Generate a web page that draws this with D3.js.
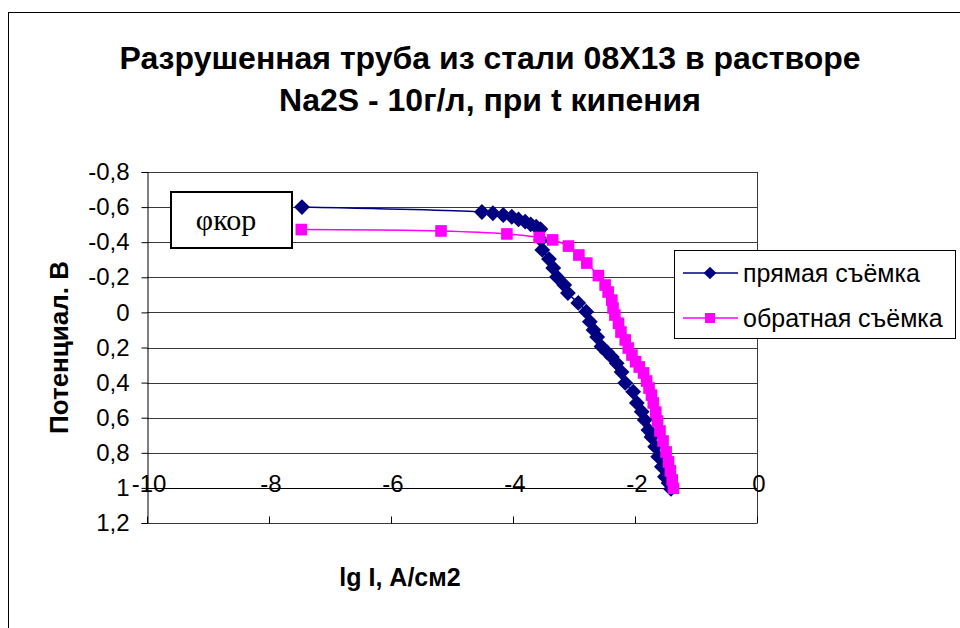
<!DOCTYPE html>
<html>
<head>
<meta charset="utf-8">
<script src="https://cdn.jsdelivr.net/npm/d3@7"></script>
<style>
  html, body { margin: 0; padding: 0; background: #fff; }
  svg { display: block; }
</style>
</head>
<body>
<svg id="chart" width="960" height="628"></svg>
<script>
// ---------- data ----------
const titleLines = ["Разрушенная труба из стали 08Х13 в растворе", "Na2S - 10г/л, при t кипения"];
const xTitle = "lg I, А/см2";
const yTitle = "Потенциал. В";
const seriesNames = ["прямая съёмка", "обратная съёмка"];
const annotation = "φкор";

const xTicks = [-10, -8, -6, -4, -2, 0];
const yTicks = [-0.8, -0.6, -0.4, -0.2, 0, 0.2, 0.4, 0.6, 0.8, 1, 1.2];

// прямая съёмка (direct scan)
const directX = [-7.46, -4.51, -4.33, -4.16, -4.02, -3.91, -3.80, -3.71, -3.62, -3.55,
  -3.54, -3.52, -3.41, -3.34, -3.28, -3.16, -3.10, -2.93, -2.80, -2.74,
  -2.68, -2.62, -2.55, -2.46, -2.38, -2.30, -2.22, -2.16, -2.03, -1.97,
  -1.89, -1.84, -1.78, -1.73, -1.67, -1.62, -1.56, -1.51, -1.45, -1.41];
const directY = [-0.60, -0.572, -0.565, -0.555, -0.545, -0.530, -0.517, -0.502, -0.488, -0.475,
  -0.413, -0.356, -0.304, -0.253, -0.202, -0.156, -0.110, -0.054, -0.004, 0.053,
  0.100, 0.140, 0.195, 0.226, 0.254, 0.29, 0.340, 0.402, 0.452, 0.516,
  0.566, 0.613, 0.670, 0.710, 0.765, 0.822, 0.879, 0.936, 0.972, 1.006];

// обратная съёмка (reverse scan)
const reverseX = [-7.47, -5.18, -4.10, -3.57, -3.35, -3.09, -2.92, -2.79, -2.60, -2.49,
  -2.44, -2.38, -2.36, -2.33, -2.27, -2.23, -2.16, -2.11, -2.05, -1.99,
  -1.93, -1.86, -1.81, -1.77, -1.73, -1.70, -1.66, -1.63, -1.59, -1.54,
  -1.49, -1.45, -1.42, -1.39, -1.37];
const reverseY = [-0.472, -0.464, -0.447, -0.427, -0.413, -0.378, -0.327, -0.281, -0.210, -0.156,
  -0.116, -0.070, -0.025, 0.015, 0.062, 0.112, 0.157, 0.203, 0.243, 0.281,
  0.311, 0.345, 0.391, 0.431, 0.471, 0.516, 0.568, 0.619, 0.676, 0.733,
  0.795, 0.852, 0.903, 0.955, 1.002];

const navy = "#000080";
const magenta = "#FF00FF";

// ---------- layout ----------
const svg = d3.select("#chart");
const plot = { left: 147, right: 757, top: 172, bottom: 523 };

const x = d3.scaleLinear().domain([-10, 0]).range([plot.left, plot.right]);
const y = d3.scaleLinear().domain([-0.8, 1.2]).range([plot.top, plot.bottom]);

const font = "Liberation Sans, Arial, sans-serif";
const fmtNum = v => {
  const s = (Math.abs(v) < 1e-9 ? "0" : String(+v.toFixed(1)));
  return s.replace(".", ",").replace("\u2212", "-");
};

// outer chart border (left and top visible)
svg.append("line").attr("x1", 8.5).attr("x2", 8.5).attr("y1", 12).attr("y2", 628)
  .attr("stroke", "#000").attr("stroke-width", 1);
svg.append("line").attr("x1", 8).attr("x2", 960).attr("y1", 12.5).attr("y2", 12.5)
  .attr("stroke", "#000").attr("stroke-width", 1);

// title
const title = svg.append("text")
  .attr("text-anchor", "middle")
  .attr("font-family", font)
  .attr("font-weight", "bold")
  .attr("font-size", 32)
  .attr("fill", "#000");
titleLines.forEach((t, i) => {
  title.append("tspan").attr("x", 490).attr("y", 69 + i * 42).text(t);
});

// gridlines
svg.append("g").selectAll("line").data(yTicks).join("line")
  .attr("x1", plot.left).attr("x2", plot.right)
  .attr("y1", d => Math.round(y(d)) + 0.5).attr("y2", d => Math.round(y(d)) + 0.5)
  .attr("stroke", "#3a3a3a").attr("stroke-width", 1);

// plot border (right)
svg.append("line").attr("x1", plot.right + 0.5).attr("x2", plot.right + 0.5)
  .attr("y1", plot.top).attr("y2", plot.bottom)
  .attr("stroke", "#3a3a3a").attr("stroke-width", 1);

// y axis
const yAxis = d3.axisLeft(y).tickValues(yTicks).tickSize(6).tickPadding(12)
  .tickFormat(fmtNum);
const gy = svg.append("g").attr("transform", `translate(${plot.left + 0.5},0)`).call(yAxis);
gy.select(".domain").attr("stroke", "#000");
gy.selectAll(".tick line").attr("stroke", "#000");
gy.selectAll("text").attr("font-family", font)
  .attr("font-size", 24).attr("fill", "#000");

// x axis: ticks at bottom pointing up, labels straddling the y=1 line
const xAxis = d3.axisTop(x).tickValues(xTicks).tickSize(7).tickFormat("");
const gx = svg.append("g").attr("transform", `translate(0,${Math.round(y(1.2)) + 0.5})`).call(xAxis);
gx.select(".domain").remove();
gx.selectAll(".tick line").attr("stroke", "#000");
svg.append("line").attr("x1", plot.left).attr("x2", plot.right)
  .attr("y1", Math.round(y(1)) + 0.5).attr("y2", Math.round(y(1)) + 0.5)
  .attr("stroke", "#000").attr("stroke-width", 1);
svg.append("g").selectAll("text").data(xTicks).join("text")
  .attr("x", d => x(d) + 2)
  .attr("y", y(1) + 4)
  .attr("text-anchor", "middle")
  .attr("font-family", font)
  .attr("font-size", 24).attr("fill", "#000")
  .text(d => fmtNum(d));

// axis titles
svg.append("text")
  .attr("x", 400).attr("y", 586)
  .attr("text-anchor", "middle")
  .attr("font-family", font)
  .attr("font-weight", "bold").attr("font-size", 25).attr("fill", "#000")
  .text(xTitle);
svg.append("text")
  .attr("transform", `translate(68,${(plot.top + plot.bottom) / 2}) rotate(-90)`)
  .attr("text-anchor", "middle")
  .attr("font-family", font)
  .attr("font-weight", "bold").attr("font-size", 26).attr("fill", "#000")
  .text(yTitle);

// series
const direct = directX.map((v, i) => [v, directY[i]]);
const reverse = reverseX.map((v, i) => [v, reverseY[i]]);
const line = d3.line().x(d => x(d[0])).y(d => y(d[1])).curve(d3.curveCatmullRom.alpha(0.5));

// diamond = square rotated by 45°
const diamond = d3.symbol().type(d3.symbolSquare).size(125);
const square = d3.symbol().type(d3.symbolSquare).size(135);

svg.append("path").datum(direct).attr("d", line)
  .attr("fill", "none").attr("stroke", navy).attr("stroke-width", 1.5);
svg.append("g").selectAll("path").data(direct).join("path")
  .attr("transform", d => `translate(${x(d[0])},${y(d[1])}) rotate(45)`)
  .attr("d", diamond)
  .attr("fill", navy);

svg.append("path").datum(reverse).attr("d", line)
  .attr("fill", "none").attr("stroke", magenta).attr("stroke-width", 1.5);
svg.append("g").selectAll("path").data(reverse).join("path")
  .attr("transform", d => `translate(${x(d[0])},${y(d[1])})`)
  .attr("d", square)
  .attr("fill", magenta);

// annotation box
svg.append("rect").attr("x", 171).attr("y", 192).attr("width", 121).attr("height", 56)
  .attr("fill", "#fff").attr("stroke", "#000").attr("stroke-width", 2);
svg.append("text").attr("x", 226).attr("y", 230)
  .attr("text-anchor", "middle")
  .attr("font-family", "Liberation Serif, Times New Roman, serif")
  .attr("font-size", 30).attr("fill", "#000")
  .text(annotation);

// legend
const lg = svg.append("g");
lg.append("rect").attr("x", 674.5).attr("y", 250.5).attr("width", 281).attr("height", 88)
  .attr("fill", "#fff").attr("stroke", "#000").attr("stroke-width", 1);
const legendColors = [navy, magenta];
const legendSymbols = [d3.symbol().type(d3.symbolSquare).size(80), d3.symbol().type(d3.symbolSquare).size(100)];
const legendRot = [45, 0];
seriesNames.forEach((name, i) => {
  const cy = 273 + i * 45;
  lg.append("line").attr("x1", 683).attr("x2", 738).attr("y1", cy).attr("y2", cy)
    .attr("stroke", legendColors[i]).attr("stroke-width", 1.5);
  lg.append("path").attr("transform", `translate(710,${cy}) rotate(${legendRot[i]})`)
    .attr("d", legendSymbols[i]).attr("fill", legendColors[i]);
  lg.append("text").attr("x", 743).attr("y", cy + 9)
    .attr("font-family", font)
    .attr("font-size", 25).attr("fill", "#000")
    .text(name);
});
</script>
</body>
</html>
